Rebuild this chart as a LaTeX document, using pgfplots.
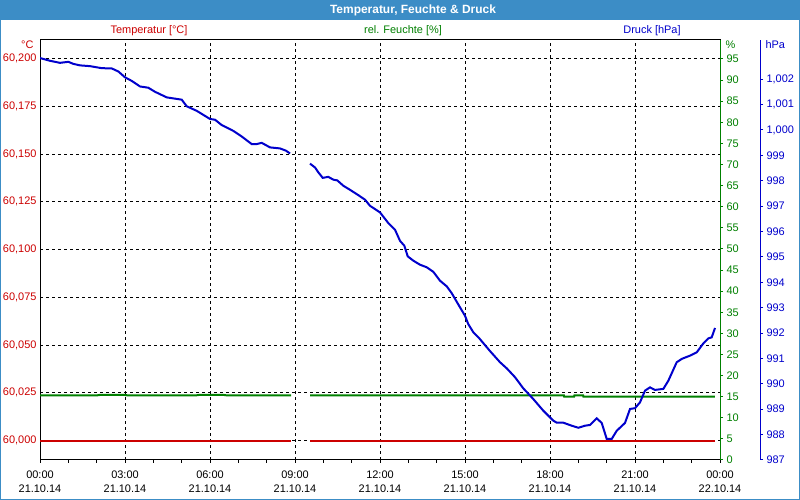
\documentclass[border=0pt]{standalone}
\usepackage{fontspec}
\setmainfont{Liberation Sans}
\usepackage{pgfplots}
\pgfplotsset{compat=1.18}
\definecolor{Bar}{HTML}{3C8DC6}
\definecolor{TRed}{HTML}{CC0000}
\definecolor{HGreen}{HTML}{008000}
\definecolor{PBlue}{HTML}{0000CC}
\pgfplotsset{panel/.style={scale only axis,width=680bp,height=420bp,anchor=south west,
  xmin=0,xmax=24,
  tick label style={font=\fontsize{11}{14}\selectfont,/pgf/number format/assume math mode=true}}}

\begin{document}
\begin{tikzpicture}[x=1bp,y=1bp]
\path[use as bounding box] (0,0) rectangle (800,500);
\fill[white] (0,0) rectangle (800,500);
\fill[Bar] (0,480) rectangle (800,500);
\draw[Bar,line width=1bp] (0.5,0.5) rectangle (799.5,499.5);
\node[white,font=\bfseries\fontsize{12}{14}\selectfont] at (413,490) {Temperatur, Feuchte \& Druck};

% temperature, with the grid
\begin{axis}[panel,at={(40bp,40bp)},
  ymin=59.9898,ymax=60.2097,
  axis line style={black,line width=1bp},
  xtick={0,3,...,24},minor xtick={1,2,4,5,7,8,10,11,13,14,16,17,19,20,22,23},
  xticklabels={00:00\\21.10.14,03:00\\21.10.14,06:00\\21.10.14,09:00\\21.10.14,12:00\\21.10.14,15:00\\21.10.14,18:00\\21.10.14,21:00\\21.10.14,00:00\\22.10.14},
  xticklabel style={align=center,yshift=-4bp},
  xtick pos=left,tick align=outside,major tick length=3bp,minor tick length=3bp,
  xtick style={black,line width=1bp},
  ytick={60.000,60.025,60.050,60.075,60.100,60.125,60.150,60.175,60.200},
  ytick style={draw=none},
  yticklabel style={TRed,xshift=3bp,/pgf/number format/.cd,fixed,fixed zerofill,precision=3,use comma},
  grid=major,major grid style={black,line width=0.8bp,dash pattern=on 3bp off 3bp},
  unbounded coords=jump]
\addplot[TRed,line width=2bp] coordinates {(0,60.000) (8.86,60.000) (9.2,nan) (9.53,60.000) (23.82,60.000)};
\end{axis}

% humidity
\begin{axis}[panel,at={(40bp,40bp)},ymin=0,ymax=99.5,
  hide x axis,axis y line*=right,
  y axis line style={HGreen,line width=1bp},
  ytick={0,5,...,95},tick align=outside,major tick length=3bp,
  ytick style={HGreen,line width=1bp},yticklabel style={HGreen},
  unbounded coords=jump]
\addplot[HGreen,line width=2bp] coordinates {(0,15.3) (2.0,15.3) (2.1,15.4) (3.0,15.4) (3.1,15.3) (5.5,15.3) (5.6,15.4) (6.5,15.4) (6.6,15.3) (8.86,15.3) (9.2,nan)
  (9.53,15.3) (18.49,15.3) (18.5,15.0) (18.85,15.0) (18.86,15.3) (19.17,15.3) (19.18,15.0) (23.82,15.0)};
\end{axis}

% pressure data
\begin{axis}[panel,at={(40bp,40bp)},ymin=987,ymax=1003.54,hide axis,unbounded coords=jump]
\addplot[PBlue,line width=2bp] coordinates {
(0,1002.83) (0.353,1002.72) (0.706,1002.64) (0.999,1002.68) (1.175,1002.60) (1.412,1002.54)
(1.765,1002.51) (2.178,1002.43) (2.531,1002.42) (2.764,1002.30) (3.0,1002.07) (3.236,1001.93)
(3.529,1001.71) (3.822,1001.66) (4.059,1001.50) (4.472,1001.28) (4.705,1001.24) (5.001,1001.19)
(5.178,1000.93) (5.531,1000.75) (6.0,1000.43) (6.176,1000.40) (6.413,1000.19) (6.822,999.96)
(7.119,999.74) (7.472,999.44) (7.648,999.44) (7.825,999.49) (8.118,999.31) (8.471,999.27)
(8.682,999.18) (8.824,999.07) (9.2,nan)
(9.529,998.67) (9.706,998.52) (9.822,998.33) (9.978,998.11) (10.175,998.15) (10.352,998.04)
(10.493,998.01) (10.705,997.80) (10.941,997.64) (11.234,997.43) (11.471,997.25) (11.647,997.01)
(12.0,996.75) (12.293,996.33) (12.529,996.07) (12.706,995.63) (12.858,995.44) (12.978,995.02)
(13.175,994.85) (13.412,994.69) (13.648,994.59) (13.881,994.41) (14.118,994.06) (14.354,993.84)
(14.531,993.57) (14.824,993.01) (15.0,992.68) (15.116,992.35) (15.293,992.03) (15.505,991.79)
(15.882,991.29) (16.235,990.85) (16.472,990.61) (16.765,990.26) (17.058,989.82) (17.411,989.40)
(17.764,988.94) (18.116,988.55) (18.236,988.47) (18.469,988.47) (18.766,988.35) (19.0,988.27)
(19.235,988.35) (19.412,988.38) (19.648,988.64) (19.825,988.46) (20.001,987.83) (20.178,987.83)
(20.354,988.15) (20.647,988.46) (20.824,989.01) (21.0,989.04) (21.176,989.27) (21.353,989.73)
(21.529,989.86) (21.706,989.76) (22.0,989.80) (22.175,990.12) (22.472,990.85) (22.648,990.98)
(22.941,991.11) (23.178,991.24) (23.411,991.59) (23.587,991.79) (23.707,991.83) (23.824,992.20)};
\end{axis}

% pressure scale
\begin{axis}[panel,at={(80bp,40bp)},ymin=987,ymax=1003.54,
  hide x axis,axis y line*=right,
  y axis line style={PBlue,line width=1bp},
  ytick={987,988,...,1002},tick align=outside,major tick length=3bp,
  ytick style={PBlue,line width=1bp},
  yticklabel style={PBlue,/pgf/number format/.cd,1000 sep={,}}]
\addplot[draw=none] coordinates {(0,990)};
\end{axis}

\begin{scope}[font=\fontsize{11}{13}\selectfont]
\node[TRed,anchor=east] at (37,455) {°C};
\node[HGreen,anchor=west] at (722,455) {\%};
\node[PBlue,anchor=west] at (762,455) {hPa};
\node[TRed] at (149,469) {Temperatur [°C]};
\node[HGreen] at (403,469) {rel. Feuchte [\%]};
\node[PBlue] at (652,469) {Druck [hPa]};
\end{scope}
\end{tikzpicture}
\end{document}
